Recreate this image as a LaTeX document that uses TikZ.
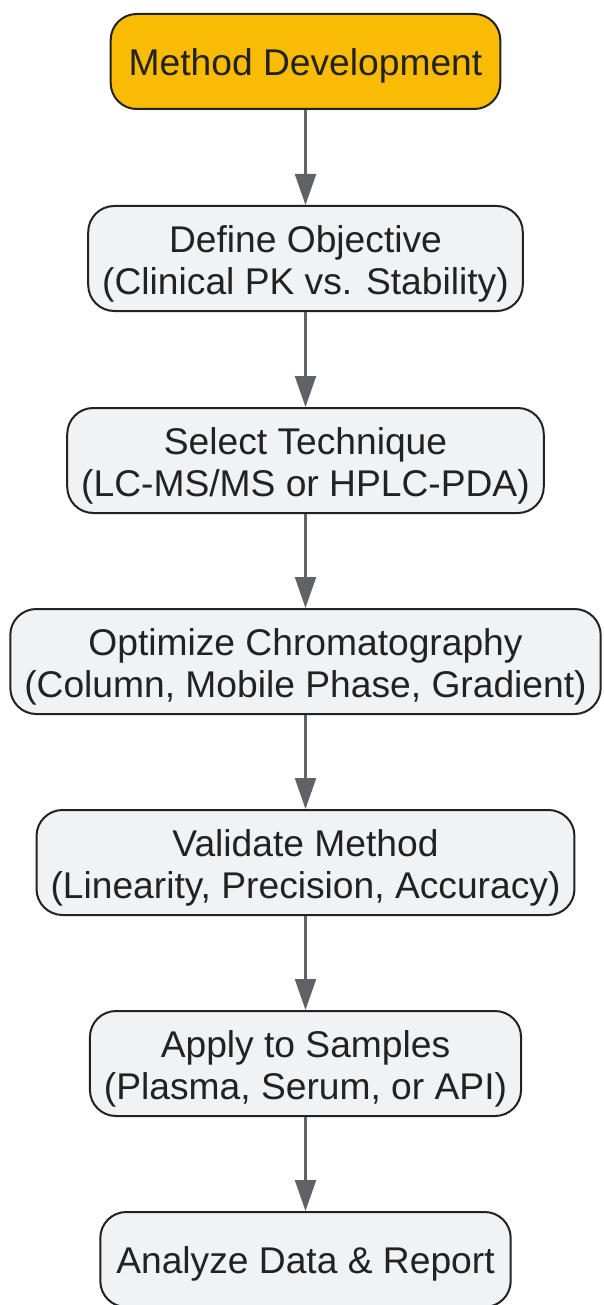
\documentclass[tikz,border=0pt]{standalone}
\usepackage{fontspec}
\setmainfont{Liberation Sans}
\usetikzlibrary{arrows.meta}

\definecolor{startfill}{HTML}{FABB05}
\definecolor{boxfill}{HTML}{F1F2F4}
\definecolor{boxline}{HTML}{222222}
\definecolor{arrowgray}{HTML}{5F6368}

% first line a bit taller, so the text sits lower in the box
\newcommand{\lift}[1]{\rule{0pt}{#1}}

\tikzset{
    flowbox/.style={draw=boxline, line width=2pt, rounded corners=26pt, fill=boxfill,
        text=boxline, align=center, inner xsep=14pt, inner ysep=0pt,
        font=\fontsize{37.2}{42}\selectfont},
    stepbox/.style={flowbox, minimum height=105pt},
    startbox/.style={flowbox, fill=startfill, inner xsep=18pt, minimum height=95pt,
        execute at begin node={\lift{36pt}}},
    endbox/.style={startbox, fill=boxfill, inner xsep=16pt},
    flow/.style={draw=arrowgray, line width=2.2pt, -{Triangle[length=31pt,width=21pt]}}
}

\begin{document}
\begin{tikzpicture}[x=1pt, y=1pt]
    \useasboundingbox (-305.5,0) rectangle (297.5,-1305);

    \node[startbox] (develop) at (0,-61.5) {Method Development};
    \node[stepbox] (objective) at (0,-258.5) {\lift{38pt}Define Objective\\(Clinical PK vs. Stability)};
    \node[stepbox] (technique) at (0,-460.5) {\lift{38pt}Select Technique\\(LC-MS/MS or HPLC-PDA)};
    \node[stepbox] (optimize) at (0,-661.5) {\lift{38pt}Optimize Chromatography\\(Column, Mobile Phase, Gradient)};
    \node[stepbox] (validate) at (0,-862.5) {\lift{38pt}Validate Method\\(Linearity, Precision, Accuracy)};
    \node[stepbox] (apply) at (0,-1063.5) {\lift{38pt}Apply to Samples\\(Plasma, Serum, or API)};
    \node[endbox] (analyze) at (0,-1259.5) {Analyze Data \& Report};

    \draw[flow] (develop) -- (objective);
    \draw[flow] (objective) -- (technique);
    \draw[flow] (technique) -- (optimize);
    \draw[flow] (optimize) -- (validate);
    \draw[flow] (validate) -- (apply);
    \draw[flow] (apply) -- (analyze);
\end{tikzpicture}
\end{document}
